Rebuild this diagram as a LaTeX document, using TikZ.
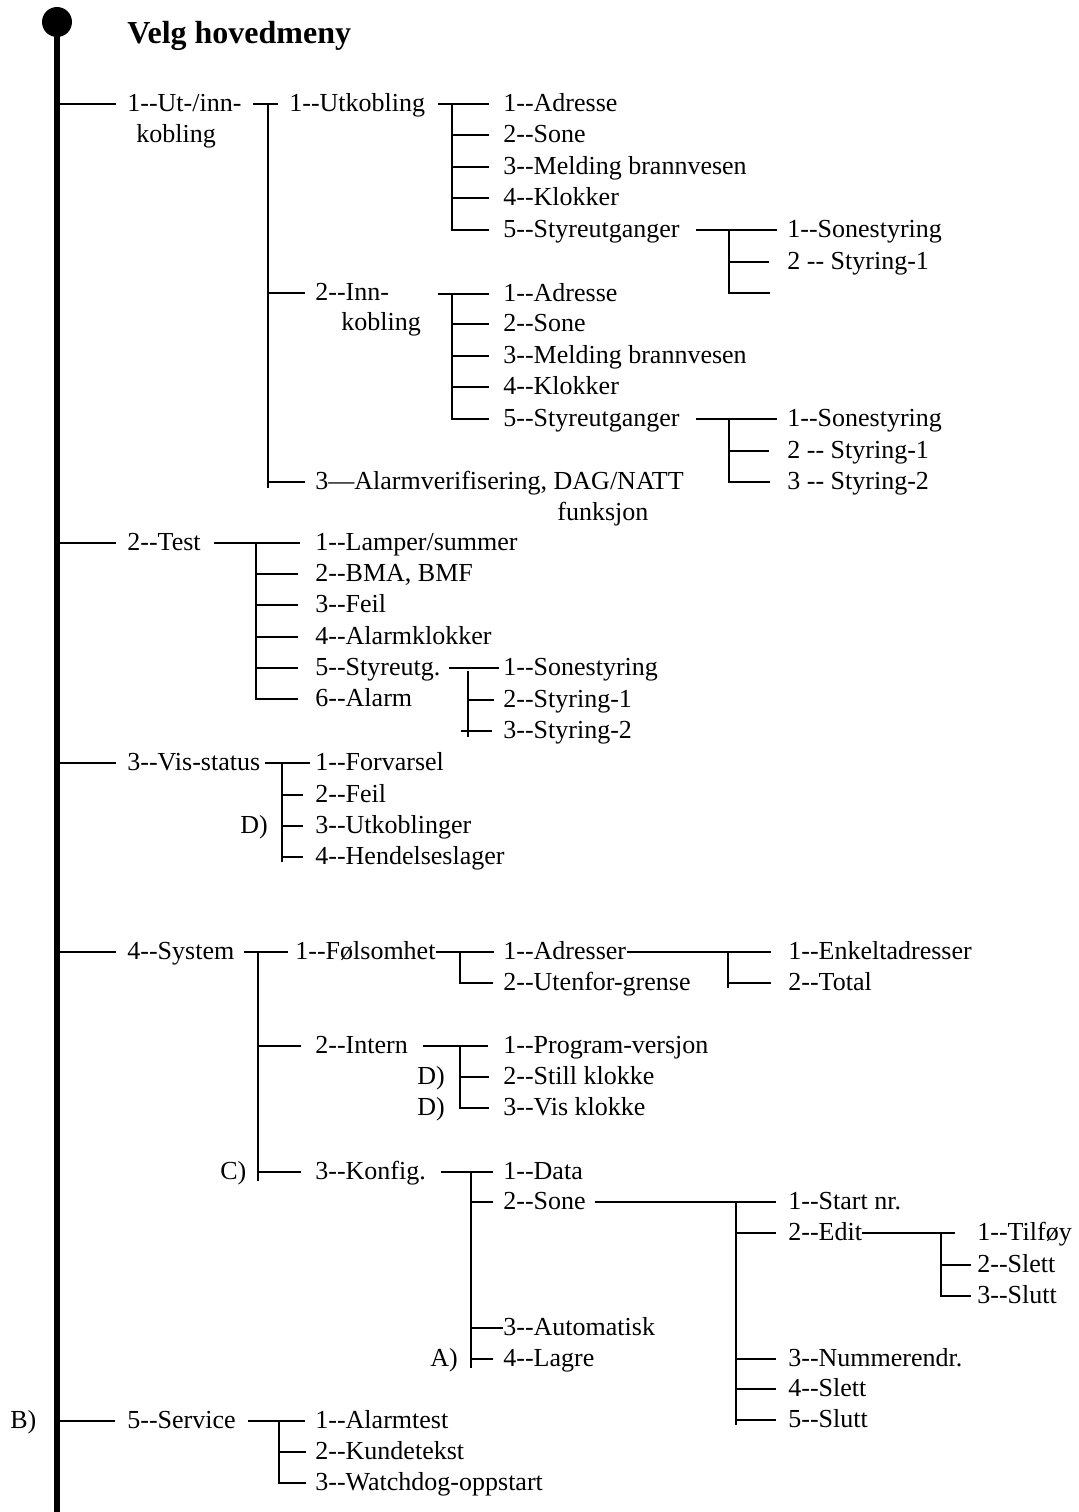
\documentclass[tikz,border=0pt]{standalone}
\usepackage{fontspec}
\setmainfont{Liberation Serif}
\usetikzlibrary{calc}
\newcommand{\dhy}{-\kern0pt-}
\tikzset{
  entry/.style={anchor=west, inner sep=0pt, text height=9.5pt, text depth=2.5pt,
    font=\fontsize{13}{15}\selectfont},
  heading/.style={anchor=west, inner sep=0pt, font=\fontsize{16}{19}\selectfont\bfseries},
  link/.style={draw, line width=0.9pt},
  thinlink/.style={draw, line width=0.55pt},
  trunk/.style={draw, line width=2.9pt}
}

\begin{document}
\begin{tikzpicture}[x=0.5pt, y=-0.5pt]
    \useasboundingbox (0,0) rectangle (1079,1512);

    % main line
    \node[circle, fill, inner sep=0pt, minimum size=15pt] at (57,22) (top) {};
    \node[shape=coordinate] at (57,1512) (bottom) {};
    \draw[trunk] (top.center) -- (bottom);
    \node[heading] at (127,36) (title) {Velg hovedmeny};

    % main menu
    \node[entry] at (127,104) (m1) {1\dhy Ut-/inn-};
    \node[entry] at (136,135) (m1b) {kobling};
    \node[entry] at (127,543) (m2) {2\dhy Test};
    \node[entry] at (127,763) (m3) {3\dhy Vis-status};
    \node[entry] at (127,952) (m4) {4\dhy System};
    \node[entry] at (127,1421) (m5) {5\dhy Service};
    \node[entry] at (10,1421) (labB) {B)};
    \draw[link, shorten >=5.5pt] (top |- m1.west) -- (m1.west);
    \draw[link, shorten >=5.5pt] (top |- m2.west) -- (m2.west);
    \draw[link, shorten >=5.5pt] (top |- m3.west) -- (m3.west);
    \draw[link, shorten >=5.5pt] (top |- m4.west) -- (m4.west);
    \draw[thinlink, shorten >=6pt] (top |- m5.west) -- (m5.west);

    % 1 -- ut-/innkobling
    \node[entry] at (289,104) (m11) {1\dhy Utkobling};
    \node[entry] at (315,293) (m12) {2\dhy Inn-};
    \node[entry] at (341,323) (m12b) {kobling};
    \node[entry] at (315,482) (m13) {3—Alarmverifisering, DAG/NATT};
    \node[entry] at (557,513) (m13b) {funksjon};
    \node[shape=coordinate] at (268,104) (b1) {};
    \node[shape=coordinate] at (268,488) (b1e) {};
    \draw[link, shorten >=5.5pt] (b1) ++(-15,0) -- (m11.west);
    \draw[link] (b1) -- (b1e);
    \draw[link, shorten >=5pt] (b1 |- m12.west) -- (m12.west);
    \draw[link, shorten >=5pt] (b1 |- m13.west) -- (m13.west);

    \node[entry] at (503,104) (u1) {1\dhy Adresse};
    \node[entry] at (503,135) (u2) {2\dhy Sone};
    \node[entry] at (503,167) (u3) {3\dhy Melding brannvesen};
    \node[entry] at (503,198) (u4) {4\dhy Klokker};
    \node[entry] at (503,230) (u5) {5\dhy Styreutganger};
    \node[shape=coordinate] at (452,104) (b11) {};
    \draw[link, shorten >=7pt] (b11) ++(-14,0) -- (u1.west);
    \draw[link, shorten >=7pt] (b11) |- (u5.west);
    \draw[link, shorten >=7pt] (b11 |- u2.west) -- (u2.west);
    \draw[link, shorten >=7pt] (b11 |- u3.west) -- (u3.west);
    \draw[link, shorten >=7pt] (b11 |- u4.west) -- (u4.west);

    \node[entry] at (787,230) (us1) {1\dhy Sonestyring};
    \node[entry] at (787,262) (us2) {2 \dhy{} Styring-1};
    \node[shape=coordinate] at (770,293) (us3) {};
    \node[shape=coordinate] at (729,230) (b115) {};
    \draw[link, shorten >=5pt] (b115) ++(-33,0) -- (us1.west);
    \draw[link] (b115) |- (us3);
    \draw[thinlink, shorten >=9pt] (b115 |- us2.west) -- (us2.west);

    \node[entry] at (503,294) (i1) {1\dhy Adresse};
    \node[entry] at (503,324) (i2) {2\dhy Sone};
    \node[entry] at (503,356) (i3) {3\dhy Melding brannvesen};
    \node[entry] at (503,387) (i4) {4\dhy Klokker};
    \node[entry] at (503,419) (i5) {5\dhy Styreutganger};
    \node[shape=coordinate] at (452,294) (b12) {};
    \draw[link, shorten >=7pt] (b12) ++(-14,0) -- (i1.west);
    \draw[link, shorten >=7pt] (b12) |- (i5.west);
    \draw[link, shorten >=7pt] (b12 |- i2.west) -- (i2.west);
    \draw[link, shorten >=7pt] (b12 |- i3.west) -- (i3.west);
    \draw[link, shorten >=7pt] (b12 |- i4.west) -- (i4.west);

    \node[entry] at (787,419) (is1) {1\dhy Sonestyring};
    \node[entry] at (787,451) (is2) {2 \dhy{} Styring-1};
    \node[entry] at (787,482) (is3) {3 \dhy{} Styring-2};
    \node[shape=coordinate] at (729,419) (b125) {};
    \draw[link, shorten >=5pt] (b125) ++(-33,0) -- (is1.west);
    \draw[link, shorten >=8.5pt] (b125) |- (is3.west);
    \draw[thinlink, shorten >=9pt] (b125 |- is2.west) -- (is2.west);

    % 2 -- test
    \node[entry] at (315,543) (t1) {1\dhy Lamper/summer};
    \node[entry] at (315,574) (t2) {2\dhy BMA, BMF};
    \node[entry] at (315,605) (t3) {3\dhy Feil};
    \node[entry] at (315,637) (t4) {4\dhy Alarmklokker};
    \node[entry] at (315,668) (t5) {5\dhy Styreutg.};
    \node[entry] at (315,699) (t6) {6\dhy Alarm};
    \node[shape=coordinate] at (256,543) (b2) {};
    \draw[link, shorten >=7.5pt] (b2) ++(-42,0) -- (t1.west);
    \draw[link, shorten >=8.5pt] (b2) |- (t6.west);
    \draw[link, shorten >=8.5pt] (b2 |- t2.west) -- (t2.west);
    \draw[link, shorten >=8.5pt] (b2 |- t3.west) -- (t3.west);
    \draw[link, shorten >=8.5pt] (b2 |- t4.west) -- (t4.west);
    \draw[link, shorten >=8.5pt] (b2 |- t5.west) -- (t5.west);

    \node[entry] at (503,668) (ts1) {1\dhy Sonestyring};
    \node[entry] at (503,700) (ts2) {2\dhy Styring-1};
    \node[entry] at (503,731) (ts3) {3\dhy Styring-2};
    \node[shape=coordinate] at (468,671) (b25) {};
    \node[shape=coordinate] at (468,737) (b25e) {};
    \draw[thinlink, shorten >=2pt] (b25 |- ts1.west) ++(-19,0) -- (ts1.west);
    \draw[thinlink] (b25) -- (b25e);
    \draw[thinlink, shorten >=4.5pt] (b25 |- ts2.west) -- (ts2.west);
    \draw[thinlink, shorten >=5.5pt] (b25 |- ts3.west) ++(-7,0) -- (ts3.west);

    % 3 -- vis-status
    \node[entry] at (315,763) (v1) {1\dhy Forvarsel};
    \node[entry] at (315,795) (v2) {2\dhy Feil};
    \node[entry] at (315,826) (v3) {3\dhy Utkoblinger};
    \node[entry] at (315,857) (v4) {4\dhy Hendelseslager};
    \node[entry] at (240,826) (labD1) {D)};
    \node[shape=coordinate] at (282,763) (b3) {};
    \node[shape=coordinate] at (282,862) (b3e) {};
    \draw[link, shorten >=2.5pt] (b3) ++(-17,0) -- (v1.west);
    \draw[link] (b3) -- (b3e);
    \draw[link, shorten >=6pt] (b3 |- v2.west) -- (v2.west);
    \draw[link, shorten >=6pt] (b3 |- v3.west) -- (v3.west);
    \draw[link, shorten >=6pt] (b3 |- v4.west) -- (v4.west);

    % 4 -- system
    \node[entry] at (295,952) (s1) {1\dhy Følsomhet};
    \node[entry] at (315,1046) (s2) {2\dhy Intern};
    \node[entry] at (315,1172) (s3) {3\dhy Konfig.};
    \node[entry] at (220,1172) (labC) {C)};
    \node[shape=coordinate] at (258,952) (b4) {};
    \node[shape=coordinate] at (258,1181) (b4e) {};
    \draw[link, shorten >=3.5pt] (b4) ++(-14,0) -- (s1.west);
    \draw[link] (b4) -- (b4e);
    \draw[link, shorten >=7pt] (b4 |- s2.west) -- (s2.west);
    \draw[link, shorten >=7pt] (b4 |- s3.west) -- (s3.west);

    \node[entry] at (503,952) (a1) {1\dhy Adresser};
    \node[entry] at (503,983) (a2) {2\dhy Utenfor-grense};
    \node[shape=coordinate] at (460,952) (b41) {};
    \draw[link, shorten >=4.5pt] (s1.east) -- (a1.west);
    \draw[link, shorten >=5pt] (b41) |- (a2.west);

    \node[entry] at (788,952) (e1) {1\dhy Enkeltadresser};
    \node[entry] at (788,983) (e2) {2\dhy Total};
    \node[shape=coordinate] at (728,952) (b411) {};
    \node[shape=coordinate] at (728,988) (b411e) {};
    \draw[link, shorten >=8.5pt] (a1.east) -- (e1.west);
    \draw[link] (b411) -- (b411e);
    \draw[link, shorten >=8.5pt] (b411 |- e2.west) -- (e2.west);

    \node[entry] at (503,1046) (n1) {1\dhy Program-versjon};
    \node[entry] at (503,1077) (n2) {2\dhy Still klokke};
    \node[entry] at (503,1108) (n3) {3\dhy Vis klokke};
    \node[entry] at (417,1077) (labD2) {D)};
    \node[entry] at (417,1108) (labD3) {D)};
    \node[shape=coordinate] at (460,1046) (b42) {};
    \draw[link, shorten >=7.5pt] (b42) ++(-37,0) -- (n1.west);
    \draw[link, shorten >=7pt] (b42) |- (n3.west);
    \draw[link, shorten >=7pt] (b42 |- n2.west) -- (n2.west);

    \node[entry] at (503,1172) (k1) {1\dhy Data};
    \node[entry] at (503,1202) (k2) {2\dhy Sone};
    \node[entry] at (503,1328) (k3) {3\dhy Automatisk};
    \node[entry] at (503,1359) (k4) {4\dhy Lagre};
    \node[entry] at (430,1359) (labA) {A)};
    \node[shape=coordinate] at (471,1172) (b43) {};
    \node[shape=coordinate] at (471,1368) (b43e) {};
    \draw[link, shorten >=5pt] (b43) ++(-30,0) -- (k1.west);
    \draw[link] (b43) -- (b43e);
    \draw[link, shorten >=5pt] (b43 |- k2.west) -- (k2.west);
    \draw[thinlink] (b43 |- k3.west) -- (k3.west);
    \draw[link, shorten >=5pt] (b43 |- k4.west) -- (k4.west);

    \node[entry] at (788,1202) (z1) {1\dhy Start nr.};
    \node[entry] at (788,1233) (z2) {2\dhy Edit};
    \node[entry] at (788,1359) (z3) {3\dhy Nummerendr.};
    \node[entry] at (788,1389) (z4) {4\dhy Slett};
    \node[entry] at (788,1420) (z5) {5\dhy Slutt};
    \node[shape=coordinate] at (736,1202) (b432) {};
    \node[shape=coordinate] at (736,1425) (b432e) {};
    \draw[link, shorten >=6pt] (k2.east) ++(9,0) -- (z1.west);
    \draw[link] (b432) -- (b432e);
    \draw[link, shorten >=6pt] (b432 |- z2.west) -- (z2.west);
    \draw[thinlink, shorten >=6pt] (b432 |- z3.west) -- (z3.west);
    \draw[thinlink, shorten >=6pt] (b432 |- z4.west) -- (z4.west);
    \draw[thinlink, shorten >=6pt] (b432 |- z5.west) -- (z5.west);

    \node[entry] at (977,1233) (d1) {1\dhy Tilføy};
    \node[entry] at (977,1265) (d2) {2\dhy Slett};
    \node[entry] at (977,1296) (d3) {3\dhy Slutt};
    \node[shape=coordinate] at (941,1233) (b4322) {};
    \draw[thinlink, shorten >=11pt] (z2.east) -- (d1.west);
    \draw[thinlink, shorten >=3pt] (b4322) |- (d3.west);
    \draw[thinlink, shorten >=3pt] (b4322 |- d2.west) -- (d2.west);

    % 5 -- service
    \node[entry] at (315,1421) (r1) {1\dhy Alarmtest};
    \node[entry] at (315,1452) (r2) {2\dhy Kundetekst};
    \node[entry] at (315,1483) (r3) {3\dhy Watchdog-oppstart};
    \node[shape=coordinate] at (279,1421) (b5) {};
    \draw[thinlink, shorten >=5pt] (b5) ++(-31,0) -- (r1.west);
    \draw[thinlink, shorten >=4.5pt] (b5) |- (r3.west);
    \draw[thinlink, shorten >=4.5pt] (b5 |- r2.west) -- (r2.west);
\end{tikzpicture}
\end{document}
